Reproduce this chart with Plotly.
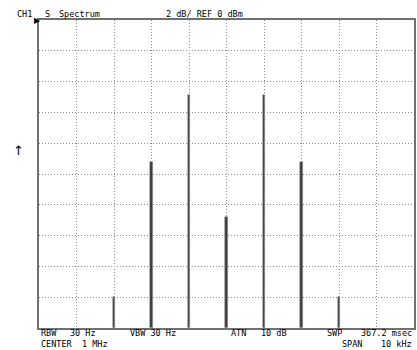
import plotly.graph_objects as go

# Data
freq_mhz = [0.997, 0.998, 0.999, 1.000, 1.001, 1.002, 1.003]
level_dbm = [-18.0, -9.2, -4.85, -12.8, -4.85, -9.2, -18.0]
ref_dbm = 0
db_per_div = 2
n_div = 10
center_mhz = 1.0
span_mhz = 0.010

floor_dbm = ref_dbm - db_per_div * n_div
x0 = center_mhz - span_mhz / 2
x1 = center_mhz + span_mhz / 2

W, H = 417, 350
ML, MR, MT, MB = 39, 1, 20, 22
PW, PH = W - ML - MR, H - MT - MB

fig = go.Figure()
fig.add_trace(go.Bar(
    x=freq_mhz,
    y=[v - floor_dbm for v in level_dbm],
    base=floor_dbm,
    width=span_mhz / PW * 3,
    marker=dict(color="#3c3c3c", line=dict(color="#a0a0a0", width=0.6)),
    hoverinfo="skip",
))

FONT = "DejaVu Sans Mono"
def px_x(px):
    return (px - ML) / PW
def px_y(py):
    return (H - MB - py) / PH

ann = []
def txt(s, x, y, anchor="left", size=8.5, family=FONT):
    ann.append(dict(text=s, x=px_x(x), y=px_y(y), xref="paper", yref="paper",
                    xanchor=anchor, yanchor="middle", showarrow=False,
                    font=dict(family=family, size=size, color="#000000")))

# top header
txt("CH1", 15, 13.5)
txt("S", 43, 13.5)
txt("Spectrum", 57, 13.5)
txt("2 dB/ REF 0 dBm", 165, 13.5)
# reference marker and arrow
txt("▶", 32, 20.5, size=8, family="DejaVu Sans")
txt("↑", 11, 150, size=13, family="DejaVu Sans")
# bottom line 1
txt("RBW", 39, 333)
txt("30 Hz", 68, 333)
txt("VBW 30 Hz", 128, 333)
txt("ATN", 230, 333)
txt("10 dB", 260, 333)
txt("SWP", 327, 333)
txt("367.2 msec", 416, 333, anchor="right")
# bottom line 2
txt("CENTER  1 MHz", 39, 343.5)
txt("SPAN", 342, 343.5)
txt("10 kHz", 416, 343.5, anchor="right")

fig.update_layout(
    width=W, height=H,
    margin=dict(l=ML, r=MR, t=MT, b=MB, pad=0),
    paper_bgcolor="white", plot_bgcolor="white",
    showlegend=False,
    annotations=ann,
    bargap=0,
)
grid = dict(showticklabels=False, ticks="", zeroline=False,
            showgrid=True, gridcolor="#8c8c8c", griddash="1px,2px", gridwidth=1,
            showline=True, mirror=True, linecolor="#707070", linewidth=1.5)
fig.update_xaxes(range=[x0, x1], tick0=x0, dtick=span_mhz / n_div, **grid)
fig.update_yaxes(range=[floor_dbm, ref_dbm], tick0=floor_dbm, dtick=db_per_div, **grid)

fig.write_html("out.html")
